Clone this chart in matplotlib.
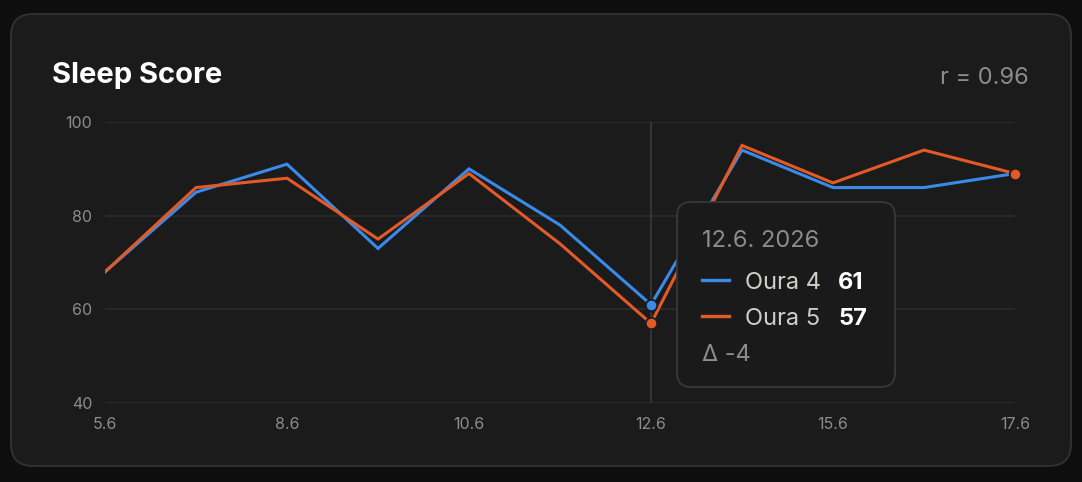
import matplotlib.pyplot as plt
from matplotlib.patches import FancyBboxPatch
from matplotlib.lines import Line2D
from matplotlib.transforms import IdentityTransform

# data
dates = ["5.6", "7.6", "8.6", "9.6", "10.6", "11.6", "12.6", "14.6", "15.6", "16.6", "17.6"]
shown_labels = ["5.6", "8.6", "10.6", "12.6", "15.6", "17.6"]
oura4 = [68, 85, 91, 73, 90, 78, 61, 94, 86, 86, 89]
oura5 = [68, 86, 88, 75, 89, 74, 57, 95, 87, 94, 89]
y_ticks = [40, 60, 80, 100]
r_value = 0.96
hover_date = "12.6"
hover_year = "2026"

BLUE = "#3a8aea"
ORANGE = "#e35a27"
BG = "#0e0e0e"
CARD = "#1b1b1b"
GRID = "#2d2d2d"
MUTED = "#8c8c8a"

plt.rcParams['font.family'] = ['Inter', 'DejaVu Sans']

W, H = 1082, 482
fig = plt.figure(figsize=(W / 100, H / 100), dpi=100, facecolor=BG)
px = IdentityTransform()

card = FancyBboxPatch((11, H - 466), 1060, 452, boxstyle="round,pad=0,rounding_size=22",
                      transform=px, facecolor=CARD, edgecolor="#333333", linewidth=1.3, zorder=-10)
fig.add_artist(card)

ax = fig.add_axes([105 / W, (H - 403) / H, 910 / W, 281 / H])
ax.set_facecolor("none")

x = list(range(len(dates)))
ax.plot(x, oura4, color=BLUE, lw=2.2, solid_joinstyle="miter", zorder=3)
ax.plot(x, oura5, color=ORANGE, lw=2.2, solid_joinstyle="miter", zorder=4)

hi = dates.index(hover_date)
ax.axvline(hi, color="#3a3a3a", lw=1.2, zorder=2)
for vals, col, z in [(oura4, BLUE, 6), (oura5, ORANGE, 7)]:
    ax.scatter([hi, x[-1]], [vals[hi], vals[-1]], s=68, color=col, edgecolor=CARD,
               linewidth=1.3, zorder=z, clip_on=False)

ax.set_xlim(0, len(dates) - 1)
ax.set_ylim(40, 100)
ax.set_yticks(y_ticks)
ax.set_xticks([dates.index(d) for d in shown_labels])
ax.set_xticklabels(shown_labels)
ax.grid(axis="y", color=GRID, lw=1.1)
ax.set_axisbelow(True)
for s in ax.spines.values():
    s.set_visible(False)
ax.tick_params(axis="both", length=0, colors=MUTED, labelsize=11.5)
ax.tick_params(axis="y", pad=9)
ax.tick_params(axis="x", pad=10)

# header
fig.text(52, H - 83, "Sleep Score", transform=px, color="white", fontsize=21,
         fontweight="bold", va="baseline", ha="left")
fig.text(1029, H - 84, f"r = {r_value:.2f}", transform=px, color=MUTED, fontsize=17,
         va="baseline", ha="right")

# tooltip anchored to the hovered point
fig.canvas.draw()
hx, _ = ax.transData.transform((hi, 0))
bx = hx + 26
btop, bbot = H - 202, H - 387
tip = FancyBboxPatch((bx, bbot), 218, btop - bbot, boxstyle="round,pad=0,rounding_size=14",
                     transform=px, facecolor="#1a1a1a", edgecolor="#383838", linewidth=1.3, zorder=10)
fig.add_artist(tip)
tx = bx + 25
fig.text(tx, H - 247, f"{hover_date}. {hover_year}", transform=px, color=MUTED, fontsize=17,
         va="baseline", zorder=11)
for name, vals, col, ly in [("Oura 4", oura4, BLUE, 280), ("Oura 5", oura5, ORANGE, 316)]:
    fig.add_artist(Line2D([tx, tx + 27], [H - ly, H - ly], transform=px, color=col, lw=2.4, zorder=11))
    fig.text(tx + 43, H - ly - 9, name, transform=px, color="#cfcfc8", fontsize=17,
             va="baseline", zorder=11)
    fig.text(tx + 136, H - ly - 9, str(vals[hi]), transform=px, color="white", fontsize=17,
             fontweight="bold", va="baseline", zorder=11)
fig.text(tx, H - 361, f"Δ {oura5[hi] - oura4[hi]}", transform=px, color=MUTED, fontsize=17,
         va="baseline", zorder=11)

fig.savefig("out.png", dpi=100, facecolor=BG)
